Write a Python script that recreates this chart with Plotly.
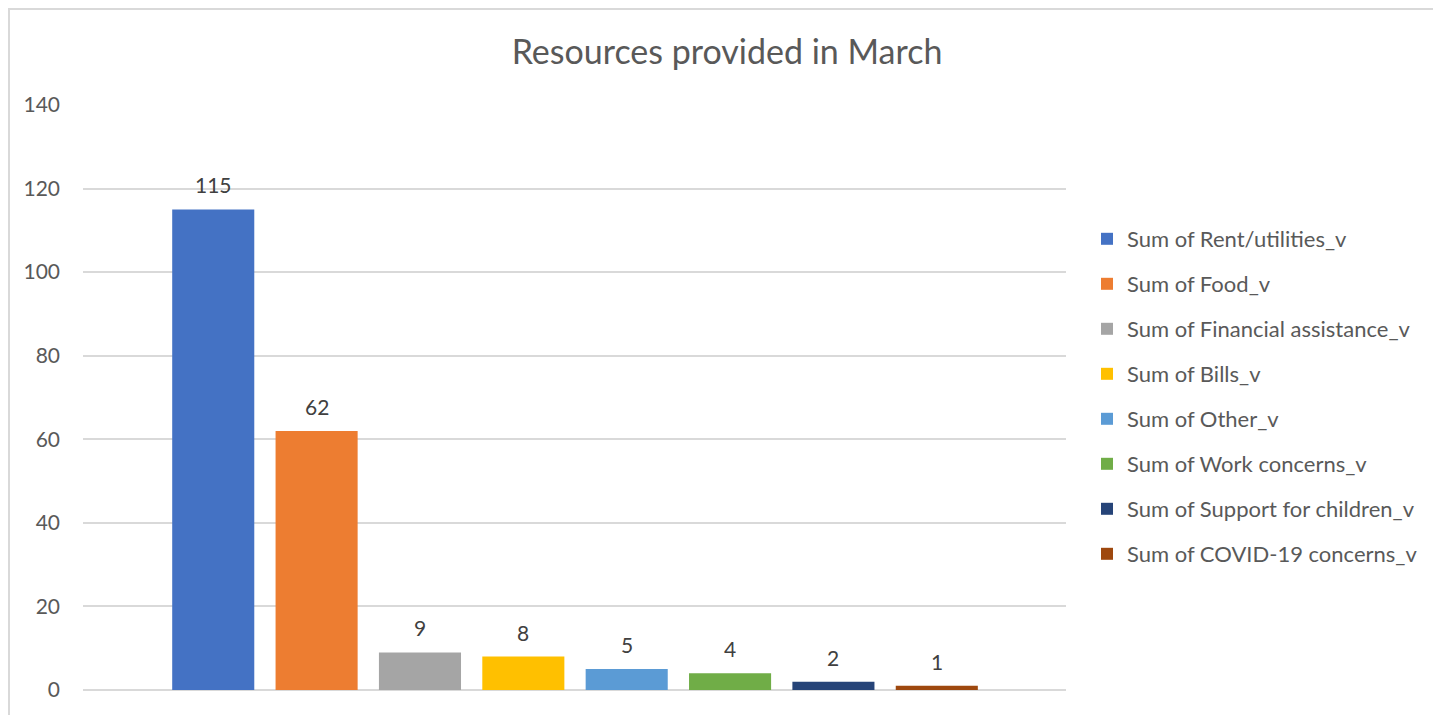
import plotly.graph_objects as go

title = "Resources provided in March"
series_names = [
    "Sum of Rent/utilities_v",
    "Sum of Food_v",
    "Sum of Financial assistance_v",
    "Sum of Bills_v",
    "Sum of Other_v",
    "Sum of Work concerns_v",
    "Sum of Support for children_v",
    "Sum of COVID-19 concerns_v",
]
values = [115, 62, 9, 8, 5, 4, 2, 1]
colors = ["#4472C4", "#ED7D31", "#A5A5A5", "#FFC000", "#5B9BD5", "#70AD47", "#264478", "#9E480E"]
y_ticks = [0, 20, 40, 60, 80, 100, 120, 140]

FONT = "Lato, 'Open Sans', sans-serif"
# page has an 8px body margin; figure coordinates = page coordinates - 8
W, H = 1433, 707
L, T = 75, 97
pw, ph = 983, 585
R, B = W - L - pw, H - T - ph

fig = go.Figure()
for i, (name, v, c) in enumerate(zip(series_names, values, colors)):
    fig.add_trace(go.Bar(
        x=[i], y=[v], name=name, marker=dict(color=c, line=dict(width=0)),
        legendgroup=name, showlegend=True,
    ))
    fig.add_annotation(x=i, y=v, text=str(v), showarrow=False, yanchor="bottom",
                       yshift=10, font=dict(family=FONT, size=21, color="#404040"))

fig.update_layout(
    width=W, height=H,
    margin=dict(l=L, r=R, t=T, b=B),
    paper_bgcolor="white", plot_bgcolor="white",
    barmode="relative", bargap=0.206,
    title=dict(text=title, x=719 / W, xanchor="center", y=1 - 44 / H, yanchor="middle",
               font=dict(family=FONT, size=34, color="#595959")),
    font=dict(family=FONT, color="#595959"),
    showlegend=True,
    legend=dict(x=1 + (1079 - (L + pw)) / pw, xanchor="left", y=1 - (210 - T) / ph, yanchor="top",
                font=dict(family=FONT, size=22, color="#595959"),
                tracegroupgap=13.4, itemwidth=30, bgcolor="rgba(0,0,0,0)"),
    xaxis=dict(range=[-1.26, 8.25], showticklabels=False, showgrid=False, zeroline=False,
               showline=False, ticks="", fixedrange=True),
    yaxis=dict(range=[0, 140], tickvals=y_ticks, showgrid=True, gridcolor="#D9D9D9", gridwidth=1.5,
               zeroline=True, zerolinecolor="#D9D9D9", zerolinewidth=1.5, showline=False,
               tickfont=dict(family=FONT, size=21, color="#595959"), ticks="", ticklabelstandoff=22),
)

# outer chart border
fig.add_shape(type="rect", xref="paper", yref="paper",
              x0=(1 - L) / pw, x1=1 + (R + 20) / pw, y0=-0.2, y1=1 + (T - 1) / ph,
              line=dict(color="#D9D9D9", width=2), fillcolor="rgba(0,0,0,0)", layer="below")

fig.write_html("out.html")
